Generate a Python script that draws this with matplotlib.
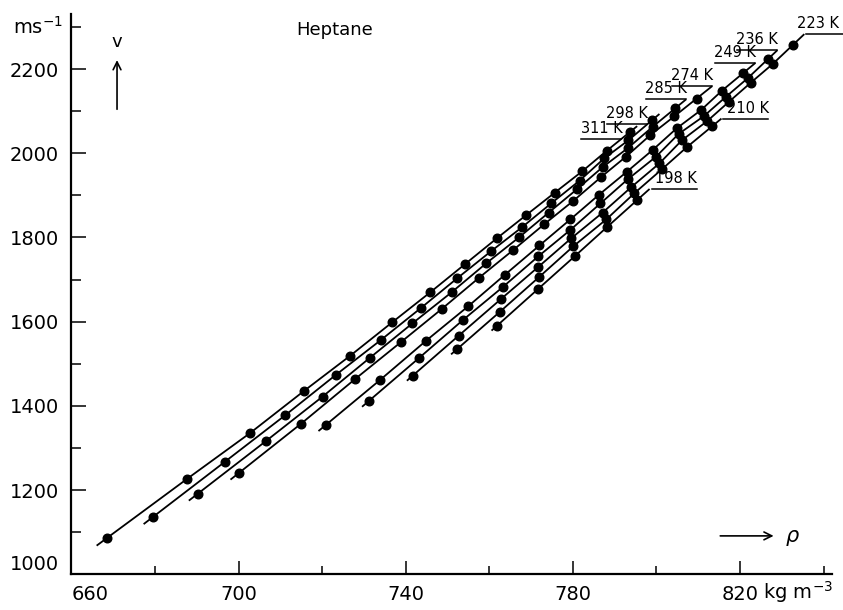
import numpy as np
import matplotlib
matplotlib.use("Agg")
import matplotlib.pyplot as plt
from matplotlib.lines import Line2D
from matplotlib.transforms import IdentityTransform

# isotherms of heptane: density (kg m^-3) and sound velocity (m s^-1)
rho_311 = [668.5, 687.6, 702.7, 715.6, 726.7, 736.7, 745.9, 754.1, 761.8, 768.8, 775.6, 782.2, 788.1, 793.7]
v_311 = [1086, 1226, 1335, 1435, 1519, 1598, 1670, 1736, 1798, 1853, 1906, 1957, 2006, 2051]

rho_298 = [679.5, 696.7, 711.2, 723.2, 734.0, 743.7, 752.3, 760.5, 767.9, 774.8, 781.6, 787.5, 793.3, 799.0]
v_298 = [1136, 1267, 1378, 1473, 1556, 1633, 1703, 1768, 1825, 1881, 1935, 1988, 2031, 2079]

rho_285 = [690.2, 706.5, 720.1, 731.4, 741.6, 751.0, 759.3, 767.2, 774.2, 780.9, 787.1, 793.1, 799.1, 804.5]
v_285 = [1191, 1316, 1422, 1514, 1596, 1670, 1739, 1801, 1859, 1914, 1967, 2012, 2063, 2107]

rho_274 = [700.0, 715.0, 727.8, 738.8, 748.6, 757.5, 765.7, 773.2, 780.1, 786.8, 792.7, 798.5, 804.3, 809.6]
v_274 = [1240, 1358, 1463, 1551, 1630, 1704, 1770, 1832, 1887, 1944, 1992, 2043, 2088, 2130]

rho_249 = [720.8, 733.8, 744.9, 755.0, 763.8, 772.0, 779.4, 786.3, 792.9, 799.1, 804.8, 810.7, 815.7, 820.8]
v_249 = [1354, 1461, 1555, 1637, 1712, 1781, 1843, 1902, 1956, 2008, 2059, 2103, 2149, 2191]

rho_236 = [731.1, 743.1, 753.7, 763.2, 771.7, 779.4, 786.6, 793.1, 799.9, 805.3, 811.3, 816.6, 821.8, 826.6]
v_236 = [1411, 1513, 1604, 1682, 1755, 1818, 1881, 1938, 1992, 2046, 2088, 2134, 2178, 2223]

rho_223 = [741.7, 752.7, 762.7, 771.6, 779.6, 787.1, 793.9, 800.7, 806.1, 812.2, 817.3, 822.6, 827.8, 832.6]
v_223 = [1472, 1567, 1653, 1729, 1798, 1859, 1919, 1976, 2031, 2077, 2122, 2168, 2212, 2257]

rho_210 = [752.2, 762.6, 771.8, 780.1, 788.0, 794.7, 801.3, 807.2, 813.3]
v_210 = [1534, 1624, 1705, 1779, 1843, 1905, 1962, 2014, 2064]

rho_198 = [761.8, 771.6, 780.4, 788.2, 795.4]
v_198 = [1590, 1677, 1755, 1825, 1889]

labels = ["311 K", "298 K", "285 K", "274 K", "249 K", "236 K", "223 K", "210 K", "198 K"]
rhos = [rho_311, rho_298, rho_285, rho_274, rho_249, rho_236, rho_223, rho_210, rho_198]
vels = [v_311, v_298, v_285, v_274, v_249, v_236, v_223, v_210, v_198]

# label placement: side of the underline, where it meets the curve
# (fraction of the last segment beyond the last point) and a text nudge in px
label_side = ['left', 'left', 'left', 'left', 'left', 'left', 'right', 'right', 'right']
label_t = [-0.37, -0.21, 0.48, 0.70, 0.56, 0.49, 0.58, 0.37, 0.41]
label_dx = [0, 0, 0, 0, 0, 0, -11, 2, 2]

plt.rcParams['font.family'] = 'DejaVu Sans'

fig = plt.figure(figsize=(8.43, 6.10), dpi=100)
ax = fig.add_axes([0.0848, 0.0587, 0.9021, 0.9184])
ax.set_xlim(660, 842)
ax.set_ylim(1000, 2331)

for s in ['top', 'right']:
	ax.spines[s].set_visible(False)
for s in ['left', 'bottom']:
	ax.spines[s].set_linewidth(1.6)

ax.set_xticks([660, 700, 740, 780, 820])
ax.set_xticks([680, 720, 760, 800, 840], minor=True)
ax.set_yticks(range(1000, 2201, 200))
ax.set_yticks(range(1100, 2301, 200), minor=True)
ax.tick_params(which='both', direction='in', width=1.1, labelsize=14)
ax.tick_params(axis='y', which='major', length=11, pad=9)
ax.tick_params(axis='y', which='minor', length=7.5)
ax.tick_params(axis='x', which='major', length=9.5, pad=8)
ax.tick_params(axis='x', which='minor', length=6)
# the corner labels sit clear of the other axis
ax.get_xticklabels()[0].set_ha('left')
ax.get_yticklabels()[0].set_va('bottom')

def point_along(x, y, i, j, t):
	# point at x[i] + t * (x[i] - x[j])
	return x[i] + t * (x[i] - x[j]), y[i] + t * (y[i] - y[j])

for lab, x, y, side, t, dx in zip(labels, rhos, vels, label_side, label_t, label_dx):
	x0, y0 = point_along(x, y, 0, 1, 0.13)
	x1, y1 = point_along(x, y, -1, -2, max(t, 0.3))
	ax.plot([x0] + x + [x1], [y0] + y + [y1], color='black', lw=1.3, solid_capstyle='butt')
	ax.plot(x, y, 'o', color='black', ms=6.2, mec='black')

	# underlined label
	ax_, ay_ = point_along(x, y, -1, -2, t)
	px, py = ax.transData.transform((ax_, ay_))
	if side == 'left':
		ux = [px - 40, px]
	else:
		ux = [px + 2, px + 47]
	tx = (ux[0] + ux[1]) / 2 + dx
	fig.add_artist(Line2D(ux, [py, py], color='black', lw=1.1, transform=IdentityTransform()))
	fig.text(tx, py + 3, lab, ha='center', va='bottom', fontsize=10.5,
		transform=IdentityTransform())

# annotations
ax.text(723, 2293, "Heptane", ha='center', va='center', fontsize=13)
fig.text(0.045, 0.956, "ms$^{-1}$", ha='center', va='center', fontsize=14)
ax.text(670.9, 2264, "v", ha='center', va='center', fontsize=13)
ax.annotate("", xy=(670.9, 2228), xytext=(670.9, 2098),
	arrowprops=dict(arrowstyle='->', lw=1.2, color='black', mutation_scale=14))
ax.annotate("", xy=(828.7, 1091), xytext=(814.6, 1091),
	arrowprops=dict(arrowstyle='->', lw=1.2, color='black', mutation_scale=14))
ax.text(830.8, 1086, r"$\rho$", ha='left', va='center', fontsize=15)

trans = matplotlib.transforms.blended_transform_factory(ax.transData, ax.transAxes)
ax.text(825.5, -0.031, "kg m$^{-3}$", ha='left', va='center', fontsize=14, transform=trans,
	clip_on=False)

fig.savefig("out.png", dpi=100)
